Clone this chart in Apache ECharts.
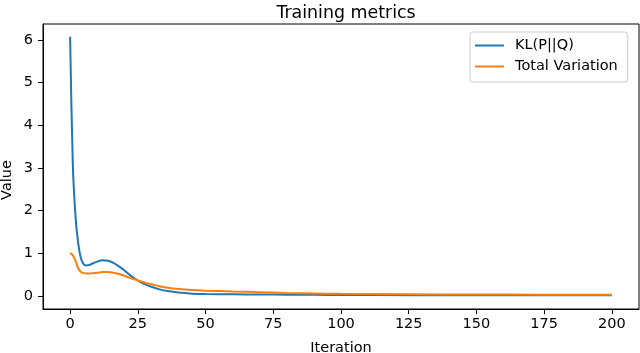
<!DOCTYPE html>
<html>
<head>
<meta charset="utf-8">
<script src="https://cdn.jsdelivr.net/npm/echarts@6/dist/echarts.min.js"></script>
<style>
html,body{margin:0;padding:0;background:#fff;}
#chart{width:640px;height:353px;}
</style>
</head>
<body>
<div id="chart"></div>
<script>
// values
const iterations = [0, 1, 2, 3, 4, 5, 6, 7, 8, 10, 12, 14, 16, 18, 20, 22, 24, 26, 28, 30, 33, 36, 40, 45, 50, 60, 70, 80, 90, 100, 125, 150, 175, 200];
const klValues = [6.07, 3.1, 1.86, 1.23, 0.88, 0.74, 0.71, 0.72, 0.75, 0.80, 0.83, 0.82, 0.77, 0.69, 0.60, 0.49, 0.40, 0.32, 0.26, 0.21, 0.15, 0.11, 0.075, 0.05, 0.04, 0.035, 0.03, 0.025, 0.022, 0.02, 0.015, 0.013, 0.012, 0.01];
const tvValues = [1.0, 0.95, 0.82, 0.64, 0.56, 0.53, 0.52, 0.52, 0.53, 0.54, 0.555, 0.555, 0.54, 0.51, 0.47, 0.42, 0.38, 0.34, 0.30, 0.27, 0.225, 0.19, 0.16, 0.135, 0.12, 0.10, 0.085, 0.065, 0.055, 0.045, 0.035, 0.03, 0.025, 0.022];
const xTicks = [0, 25, 50, 75, 100, 125, 150, 175, 200];
const yTicks = [0, 1, 2, 3, 4, 5, 6];
const seriesNames = ['KL(P||Q)', 'Total Variation'];

const font = 'DejaVu Sans';

function pairs(xs, ys){
    let out = [];
    for (let i = 0; i < xs.length; i++) {
        out.push([xs[i], ys[i]]);
    }
    return out;
}

let myChart = echarts.init(document.getElementById('chart'), null, {renderer: 'canvas'});
let option = {
    animation: false,
    backgroundColor: '#fff',
    title: {
        text: 'Training metrics',
        left: 341,
        top: 0,
        textAlign: 'center',
        textStyle: {
            fontFamily: font,
            fontSize: 17.4,
            fontWeight: 'normal',
            color: '#000'
        }
    },
    grid: {
        left: 43,
        top: 24,
        width: 596,
        height: 285,
        outerBoundsMode: 'none',
        containLabel: false,
        show: true,
        borderColor: '#000',
        borderWidth: 1
    },
    legend: {
        orient: 'vertical',
        left: 470,
        top: 32,
        padding: [6, 10, 8, 5],
        itemGap: 6,
        itemWidth: 29,
        itemHeight: 2,
        icon: 'rect',
        backgroundColor: '#fff',
        borderColor: '#cccccc',
        borderWidth: 1,
        borderRadius: 3,
        data: seriesNames,
        textStyle: {
            fontFamily: font,
            fontSize: 14.5,
            lineHeight: 15,
            color: '#000',
            padding: [0, 0, 0, 6]
        }
    },
    xAxis: {
        type: 'value',
        min: -10,
        max: 210,
        name: 'Iteration',
        nameLocation: 'middle',
        nameGap: 32,
        nameTextStyle: {fontFamily: font, fontSize: 14.5, color: '#000'},
        axisLine: {show: true, onZero: false, lineStyle: {color: '#000', width: 1}},
        axisTick: {show: true, length: 5, customValues: xTicks, lineStyle: {color: '#000'}},
        axisLabel: {customValues: xTicks, margin: 8, fontFamily: font, fontSize: 14.5, color: '#000'},
        splitLine: {show: false}
    },
    yAxis: {
        type: 'value',
        min: -0.31,
        max: 6.37,
        axisLine: {show: true, onZero: false, lineStyle: {color: '#000', width: 1}},
        axisTick: {show: true, length: 5, customValues: yTicks, lineStyle: {color: '#000'}},
        axisLabel: {customValues: yTicks, margin: 10, fontFamily: font, fontSize: 14.5, color: '#000'},
        splitLine: {show: false}
    },
    graphic: [{
        type: 'text',
        x: 7,
        y: 180,
        rotation: Math.PI / 2,
        style: {
            text: 'Value',
            fontFamily: font,
            fontSize: 14.5,
            fill: '#000',
            align: 'center',
            verticalAlign: 'middle'
        }
    }],
    series: [
        {
            name: seriesNames[0],
            type: 'line',
            data: pairs(iterations, klValues),
            showSymbol: false,
            symbol: 'none',
            smooth: 0.3,
            color: '#1f77b4',
            lineStyle: {width: 2, color: '#1f77b4'},
            z: 2
        },
        {
            name: seriesNames[1],
            type: 'line',
            data: pairs(iterations, tvValues),
            showSymbol: false,
            symbol: 'none',
            smooth: 0.3,
            color: '#ff7f0e',
            lineStyle: {width: 2, color: '#ff7f0e'},
            z: 3
        }
    ]
};
myChart.setOption(option);
</script>
</body>
</html>
